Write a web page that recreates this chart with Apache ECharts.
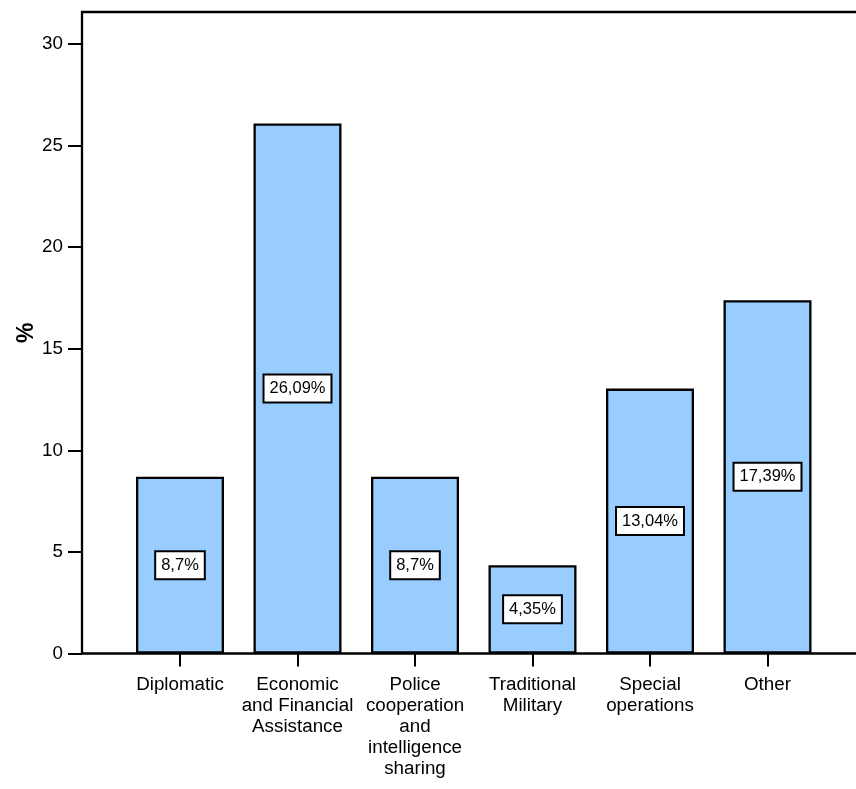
<!DOCTYPE html>
<html>
<head>
<meta charset="utf-8">
<script src="https://cdn.jsdelivr.net/npm/echarts@6/dist/echarts.min.js"></script>
<style>html,body{margin:0;padding:0;background:#fff;}#chart{width:856px;height:789px;}</style>
</head>
<body>
<div id="chart"></div>
<script>
const categories = ['Diplomatic', 'Economic\nand Financial\nAssistance', 'Police\ncooperation\nand\nintelligence\nsharing', 'Traditional\nMilitary', 'Special\noperations', 'Other'];
const percentValues = [8.7, 26.09, 8.7, 4.35, 13.04, 17.39];
const yTickValues = [0, 5, 10, 15, 20, 25, 30];
const yAxisTitle = '%';

const FONT = '"Liberation Sans", Arial, sans-serif';
const chart = echarts.init(document.getElementById('chart'), null, {renderer: 'canvas'});
const gridTop = 12, gridBottom = 135.5;
chart.setOption({
  backgroundColor: '#fff',
  animation: false,
  textStyle: {fontFamily: FONT},
  grid: [
    {left: 82, top: gridTop, width: 800, bottom: gridBottom, outerBoundsMode: 'none', containLabel: false, show: true, borderColor: '#000', borderWidth: 2.3, backgroundColor: 'transparent'},
    {left: 121.25, width: 705, top: gridTop, bottom: gridBottom, outerBoundsMode: 'none', containLabel: false}
  ],
  xAxis: [
    {gridIndex: 0, type: 'value', show: false, min: 0, max: 1},
    {
      gridIndex: 1, type: 'category', data: categories, boundaryGap: true,
      axisLine: {show: false},
      axisTick: {show: true, alignWithLabel: true, length: 13, lineStyle: {color: '#000', width: 2}},
      axisLabel: {color: '#000', fontSize: 18.8, lineHeight: 21, margin: 21, interval: 0, fontFamily: FONT}
    }
  ],
  yAxis: [
    {gridIndex: 0, type: 'value', show: false, min: 0, max: 1},
    {
      gridIndex: 1, type: 'value', min: 0, max: 31.58, interval: 5, offset: 39.25,
      name: yAxisTitle, nameLocation: 'middle', nameRotate: 90, nameGap: 44, nameMoveOverlap: false,
      nameTextStyle: {color: '#000', fontSize: 23, fontWeight: 'bold', fontFamily: FONT},
      axisLine: {show: false},
      splitLine: {show: false},
      axisTick: {show: true, length: 14, lineStyle: {color: '#000', width: 2}, customValues: yTickValues},
      axisLabel: {color: '#000', fontSize: 18.8, margin: 19, fontFamily: FONT, customValues: yTickValues}
    }
  ],
  series: [{
    type: 'bar', xAxisIndex: 1, yAxisIndex: 1,
    data: percentValues,
    barWidth: 88,
    itemStyle: {color: '#99CCFF', borderColor: '#000', borderWidth: 2.3},
    label: {
      show: true, position: 'inside', color: '#000', fontSize: 16.5, fontFamily: FONT,
      backgroundColor: '#fff', borderColor: '#000', borderWidth: 2, padding: [5, 5, 4, 5],
      formatter: p => String(p.value).replace('.', ',') + '%'
    }
  }]
});
</script>
</body>
</html>
